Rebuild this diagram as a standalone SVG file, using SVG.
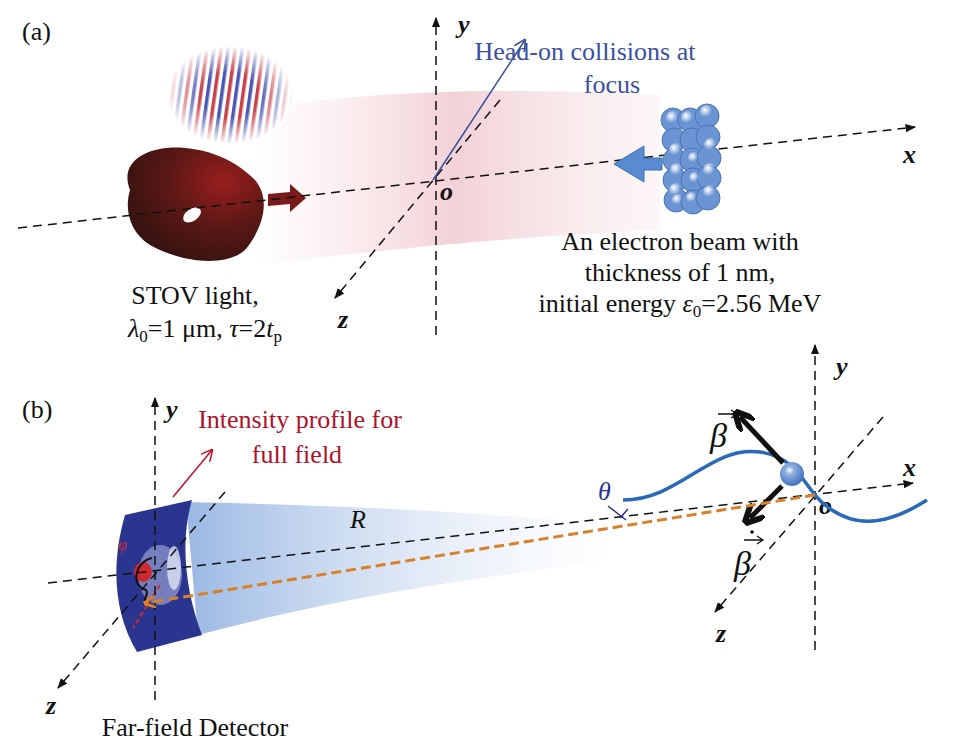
<svg xmlns="http://www.w3.org/2000/svg" width="961" height="748" viewBox="0 0 961 748">
<style>
.t{font-family:"Liberation Serif","Times New Roman",serif;font-size:26px;fill:#111}
.i{font-style:italic}
.b{font-weight:bold}
.ax{stroke:#111;stroke-width:1.5;stroke-dasharray:9 6;fill:none}
.e{fill:#6a94d2;stroke:#4a74b8;stroke-width:1}
</style>
<defs>
<marker id="ah" viewBox="0 0 10 10" refX="9" refY="5" markerWidth="7" markerHeight="7" orient="auto"><path d="M0,1 L10,5 L0,9 z" fill="#111"/></marker>
<marker id="ahb" viewBox="0 0 10 10" refX="9" refY="5" markerWidth="8" markerHeight="8" orient="auto"><path d="M0,0 L10,5 L0,10" fill="none" stroke="#3a4fa0" stroke-width="1.3"/></marker>
<marker id="ahr" viewBox="0 0 10 10" refX="9" refY="5" markerWidth="8" markerHeight="8" orient="auto"><path d="M0,0 L10,5 L0,10" fill="none" stroke="#c0102a" stroke-width="1.3"/></marker>
<marker id="aho" viewBox="0 0 10 10" refX="8" refY="5" markerWidth="4" markerHeight="4" orient="auto"><path d="M0,0 L10,5 L0,10" fill="none" stroke="#d9802a" stroke-width="2.5"/></marker>
<marker id="ahk" viewBox="0 0 10 10" refX="6" refY="5" markerWidth="4" markerHeight="4" orient="auto"><path d="M0,0 L10,5 L0,10" fill="none" stroke="#111" stroke-width="3"/></marker>
<linearGradient id="pink" x1="0" x2="1"><stop offset="0" stop-color="#f6d8dc" stop-opacity="0"/><stop offset="0.5" stop-color="#f0c6cc" stop-opacity="0.8"/><stop offset="1" stop-color="#f6e2e4" stop-opacity="0.3"/></linearGradient>
<linearGradient id="cone" x1="0" x2="1"><stop offset="0" stop-color="#8fb0e0" stop-opacity="0.9"/><stop offset="1" stop-color="#dbe6f5" stop-opacity="0"/></linearGradient>
<radialGradient id="don" cx="0.7" cy="0.3" r="0.8"><stop offset="0" stop-color="#9a1e1e"/><stop offset="0.5" stop-color="#5a1815"/><stop offset="1" stop-color="#321210"/></radialGradient>
<radialGradient id="sph" cx="0.4" cy="0.35" r="0.6"><stop offset="0" stop-color="#ffffff"/><stop offset="0.3" stop-color="#8fb0e0"/><stop offset="1" stop-color="#4a78c0"/></radialGradient>
<pattern id="stripes" width="14" height="10" patternUnits="userSpaceOnUse" patternTransform="rotate(8)"><rect width="14" height="10" fill="#fff"/><rect x="0" width="3.5" height="10" fill="#c0202a"/><rect x="7" width="3.5" height="10" fill="#2a3aa8"/></pattern>
<radialGradient id="fade"><stop offset="0.45" stop-color="#fff" stop-opacity="0"/><stop offset="1" stop-color="#fff" stop-opacity="1"/></radialGradient>
<radialGradient id="hl" cx="0.35" cy="0.35" r="0.5"><stop offset="0" stop-color="#fff"/><stop offset="1" stop-color="#fff" stop-opacity="0"/></radialGradient>
</defs>

<text class="t" x="22" y="40">(a)</text>
<text class="t" x="22" y="418">(b)</text>

<g id="beam-a">
<path d="M250,110 C350,95 450,85 660,95 L660,230 C450,240 350,255 250,265 z" fill="url(#pink)"/>
</g>

<g id="wavepacket">
<ellipse cx="230" cy="95" rx="62" ry="48" fill="url(#stripes)" opacity="0.85"/>
<ellipse cx="230" cy="95" rx="64" ry="50" fill="url(#fade)"/>
</g>

<g id="stov">
<path d="M130,190 C118,160 150,145 185,148 C210,150 235,160 255,180 C272,200 262,230 245,250 C225,268 180,262 150,245 C130,232 124,210 130,190 z" fill="url(#don)"/>
<ellipse cx="192" cy="215" rx="10" ry="6" fill="#fff" transform="rotate(-35 192 215)"/>
<path d="M268,194 L290,192 L290,184 L306,198 L290,212 L290,204 L268,206 z" fill="#7a1a1a"/>
</g>

<g id="axes-a">
<line class="ax" x1="436" y1="335" x2="436" y2="18" marker-end="url(#ah)"/>
<line class="ax" x1="18" y1="228" x2="915" y2="127" marker-end="url(#ah)"/>
<line class="ax" x1="500" y1="100" x2="335" y2="298" marker-end="url(#ah)"/>
<line x1="433" y1="180" x2="525" y2="40" stroke="#3a4fa0" stroke-width="1.5" marker-end="url(#ahb)"/>
<text class="t i b" x="458" y="33">y</text>
<text class="t i b" x="903" y="163">x</text>
<text class="t i b" x="338" y="328">z</text>
<text class="t i b" x="440" y="200">o</text>
</g>

<g id="electrons">
<path d="M662,158 L644,158 L644,146 L614,164 L644,182 L644,170 L662,170 z" fill="#5a8ad0" stroke="#3a6ab0"/>
<g>
<circle class="e" cx="673" cy="120" r="12"/><circle class="e" cx="690" cy="120" r="12"/><circle class="e" cx="707" cy="116" r="12"/>
<circle class="e" cx="674" cy="140" r="12"/><circle class="e" cx="692" cy="140" r="12"/><circle class="e" cx="708" cy="137" r="12"/>
<circle class="e" cx="675" cy="160" r="12"/><circle class="e" cx="692" cy="160" r="12"/><circle class="e" cx="709" cy="158" r="12"/>
<circle class="e" cx="675" cy="180" r="12"/><circle class="e" cx="693" cy="180" r="12"/><circle class="e" cx="709" cy="178" r="12"/>
<circle class="e" cx="676" cy="200" r="12"/><circle class="e" cx="693" cy="202" r="12"/><circle class="e" cx="708" cy="198" r="12"/>
</g>
<g fill="url(#hl)">
<circle cx="673" cy="118" r="7"/><circle cx="688" cy="118" r="7"/><circle cx="707" cy="112" r="7"/>
<circle cx="676" cy="150" r="7"/><circle cx="694" cy="158" r="6"/><circle cx="711" cy="145" r="7"/>
<circle cx="677" cy="170" r="7"/><circle cx="695" cy="178" r="6"/><circle cx="710" cy="170" r="7"/>
<circle cx="676" cy="190" r="7"/><circle cx="692" cy="198" r="6"/><circle cx="710" cy="192" r="7"/><circle cx="678" cy="200" r="6"/>
</g>
</g>

<g id="labels-a">
<text class="t" x="585" y="60" text-anchor="middle" style="fill:#3a4fa0">Head-on collisions at</text>
<text class="t" x="612" y="93" text-anchor="middle" style="fill:#3a4fa0">focus</text>
<text class="t" x="680" y="250" text-anchor="middle">An electron beam with</text>
<text class="t" x="680" y="281" text-anchor="middle">thickness of 1 nm,</text>
<text class="t" x="680" y="312" text-anchor="middle">initial energy <tspan class="i">ε</tspan><tspan style="font-size:17px" dy="5">0</tspan><tspan dy="-5">=2.56 MeV</tspan></text>
<text class="t" x="195" y="304" text-anchor="middle">STOV light,</text>
<text class="t" x="205" y="337" text-anchor="middle"><tspan class="i">λ</tspan><tspan style="font-size:17px" dy="5">0</tspan><tspan dy="-5">=1 μm, </tspan><tspan class="i">τ</tspan>=2<tspan class="i">t</tspan><tspan style="font-size:17px" dy="5">p</tspan></text>
</g>

<g id="cone-b">
<path d="M186,502 C330,505 450,510 620,525 L620,560 C450,580 330,600 198,635 z" fill="url(#cone)"/>
</g>

<g id="detector">
<path d="M125,515 L192,500 C180,540 185,590 202,635 L137,652 C112,610 112,560 125,515 z" fill="#2a3590"/>
<ellipse cx="160" cy="575" rx="22" ry="30" fill="#a8b0dc" opacity="0.6"/>
<ellipse cx="174" cy="568" rx="7" ry="22" fill="#dfe3f5" opacity="0.8"/>
<ellipse cx="143" cy="572" rx="9" ry="10" fill="#d02a30"/>
<path d="M152,558 C135,562 130,585 146,590 C150,595 140,600 148,603" fill="none" stroke="#111" stroke-width="2"/>
<text x="118" y="550" style="font-family:'Liberation Serif',serif;font-size:16px;font-style:italic;fill:#d02a30">φ</text>
<line x1="160" y1="585" x2="133" y2="628" stroke="#d02a30" stroke-width="2" stroke-dasharray="5 3"/>
</g>

<g id="axes-b">
<line class="ax" x1="155" y1="700" x2="155" y2="398" marker-end="url(#ah)"/>
<line class="ax" x1="225" y1="492" x2="58" y2="688" marker-end="url(#ah)"/>
<line class="ax" x1="48" y1="583" x2="913" y2="483" marker-end="url(#ah)"/>
<line class="ax" x1="815" y1="650" x2="815" y2="345" marker-end="url(#ah)"/>
<line class="ax" x1="883" y1="417" x2="715" y2="612" marker-end="url(#ah)"/>
<text class="t i b" x="166" y="418">y</text>
<text class="t i b" x="46" y="714">z</text>
<text class="t i b" x="903" y="476">x</text>
<text class="t i b" x="819" y="514">o</text>
<text class="t i b" x="836" y="375">y</text>
<text class="t i b" x="716" y="642">z</text>
</g>

<g id="trajectory">
<path d="M623,500 C680,500 710,445 760,452 C800,458 805,490 825,505 C850,525 880,530 927,500" fill="none" stroke="#2a68b8" stroke-width="3.5"/>
<circle cx="792" cy="474" r="12" fill="url(#sph)"/>
<line x1="783" y1="463" x2="740" y2="417" stroke="#111" stroke-width="5" marker-end="url(#ahk)"/>
<line x1="782" y1="486" x2="750" y2="518" stroke="#111" stroke-width="5" marker-end="url(#ahk)"/>
<text class="t i" x="710" y="447" style="font-size:34px">β</text>
<path d="M718,414 L736,414 M731,410 L737,414 L731,418" stroke="#111" stroke-width="1.3" fill="none"/>
<text class="t i" x="734" y="575" style="font-size:34px">β</text>
<path d="M744,540 L762,540 M757,536 L763,540 L757,544" stroke="#111" stroke-width="1.3" fill="none"/>
<circle cx="752" cy="532" r="1.8" fill="#111"/>
</g>

<g id="connectors">
<line x1="815" y1="495" x2="146" y2="603" stroke="#d9802a" stroke-width="3" stroke-dasharray="10 5" marker-end="url(#aho)"/>
<line x1="173" y1="497" x2="212" y2="450" stroke="#c0102a" stroke-width="1.5" marker-end="url(#ahr)"/>
<path d="M608,506 L626,520 M620,518 L628,509" stroke="#2a3590" stroke-width="1.5" fill="none"/>
</g>

<g id="labels-b">
<text class="t i" x="598" y="500" style="fill:#2a3590">θ</text>
<text class="t i" x="350" y="528">R</text>
<text class="t" x="300" y="428" text-anchor="middle" style="fill:#b0102a">Intensity profile for</text>
<text class="t" x="297" y="463" text-anchor="middle" style="fill:#b0102a">full field</text>
<text class="t" x="195" y="736" text-anchor="middle">Far-field Detector</text>
</g>
</svg>
